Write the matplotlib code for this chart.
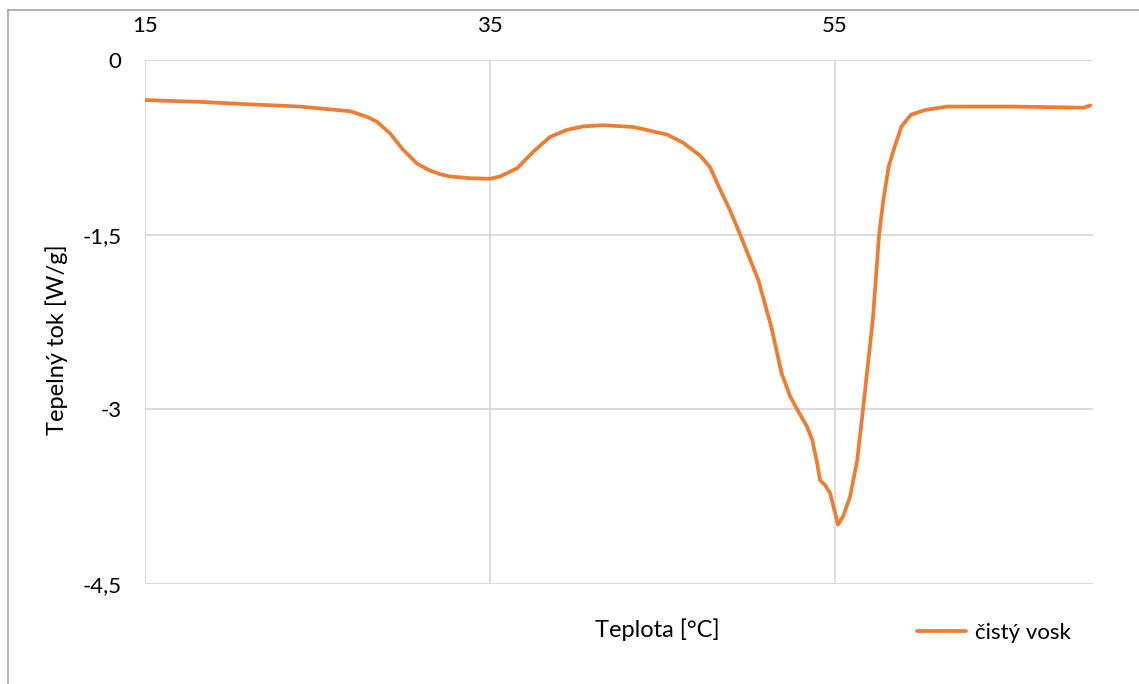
import matplotlib
matplotlib.use("Agg")
import matplotlib.pyplot as plt
from matplotlib.lines import Line2D

plt.rcParams["font.family"] = ["Lato", "DejaVu Sans"]

# DSC curve, values
teplota = [15.0, 18.2, 21.0, 24.0, 26.9, 27.9, 28.45, 29.2, 29.96, 30.77, 31.52,
           32.1, 32.68, 33.84, 35.0, 35.58, 36.57, 37.49, 38.48, 39.46, 40.39,
           41.55, 43.29, 45.26, 46.19, 47.17, 47.75, 48.33, 48.91, 49.5, 50.55,
           51.3, 51.9, 52.4, 52.8, 53.38, 53.67, 53.96, 54.13, 54.42, 54.71,
           55.0, 55.17, 55.46, 55.87, 56.28, 56.62, 57.2, 57.55, 57.8, 58.1,
           58.4, 58.85, 59.4, 60.2, 61.5, 63.5, 65.3, 67.5, 69.4, 69.8]
tok = [-0.344, -0.36, -0.38, -0.40, -0.44, -0.49, -0.53, -0.63, -0.77, -0.89,
       -0.95, -0.98, -1.0, -1.015, -1.02, -1.0, -0.93, -0.79, -0.66, -0.60,
       -0.57, -0.56, -0.575, -0.64, -0.71, -0.82, -0.92, -1.11, -1.29, -1.50,
       -1.89, -2.29, -2.69, -2.89, -3.0, -3.15, -3.26, -3.46, -3.61, -3.65,
       -3.72, -3.89, -3.99, -3.92, -3.75, -3.44, -3.0, -2.21, -1.50, -1.20,
       -0.92, -0.77, -0.57, -0.47, -0.43, -0.40, -0.40, -0.40, -0.405, -0.41,
       -0.39]

x_ticks = [15, 35, 55]
y_ticks = [0, -1.5, -3, -4.5]
y_tick_labels = ["0", "-1,5", "-3", "-4,5"]

W, H = 1139, 684
fig = plt.figure(figsize=(W / 100, H / 100), dpi=100)
ax = fig.add_axes([145 / W, 1 - 584 / H, (1093 - 145) / W, (584 - 60) / H])

grid_c = "#D9D9D9"
ax.plot(teplota, tok, color="#ED7D31", lw=2.7, solid_capstyle="round",
        solid_joinstyle="round", label="čistý vosk", zorder=3)

ax.set_xlim(15, 69.95)
ax.set_ylim(-4.5, 0)
ax.xaxis.tick_top()
ax.set_xticks(x_ticks)
ax.set_yticks(y_ticks)
ax.set_yticklabels(y_tick_labels)
ax.tick_params(length=0, labelsize=16, colors="black")
ax.tick_params(axis="x", pad=17)
ax.tick_params(axis="y", pad=17)
ax.grid(True, color=grid_c, lw=1.3)
for s in ax.spines.values():
    s.set_visible(False)
ax.axvline(15, color=grid_c, lw=1.3, zorder=1)
ax.axhline(0, color=grid_c, lw=1.3, zorder=1)

fig.text(657 / W, 1 - 630 / H, "Teplota [°C]", ha="center", va="center",
         fontsize=17)
fig.text(57 / W, 1 - 340 / H, "Tepelný tok [W/g]", ha="center", va="center",
         rotation=90, fontsize=17)

fig.legend(loc="center left", bbox_to_anchor=(917 / W, 1 - 633 / H),
           frameon=False, fontsize=16, handlelength=2.2, handletextpad=0.4,
           borderpad=0, borderaxespad=0)

# outer chart border (left and top edges visible)
fig.add_artist(Line2D([8 / W, 8 / W], [0, 1 - 10 / H], color="#A6A6A6", lw=1.2))
fig.add_artist(Line2D([8 / W, 1], [1 - 10 / H, 1 - 10 / H], color="#A6A6A6", lw=1.2))

fig.savefig("out.png", dpi=100, facecolor="white")
